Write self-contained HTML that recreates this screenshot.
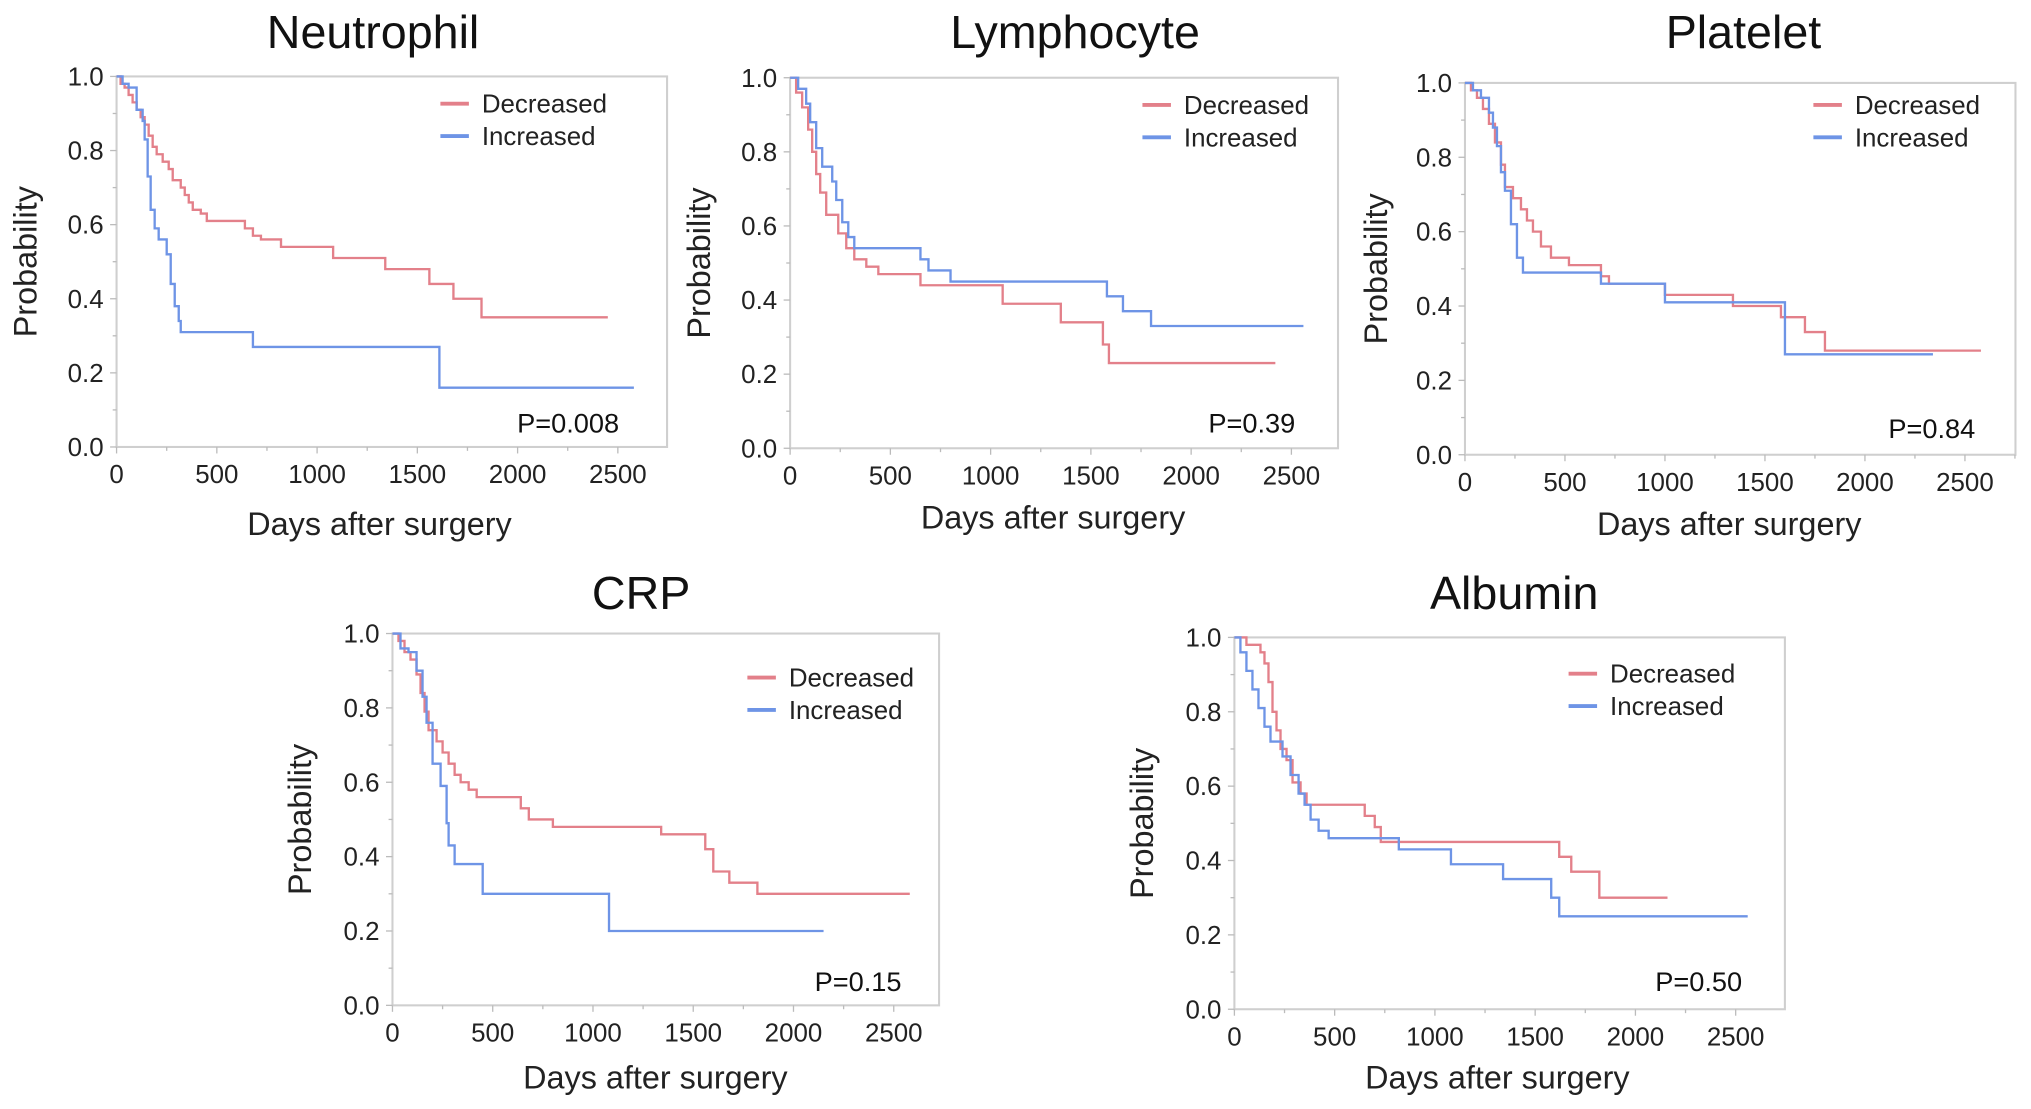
<!DOCTYPE html>
<html><head><meta charset="utf-8"><style>
html,body{margin:0;padding:0;background:#fff;}
svg{display:block;font-family:"Liberation Sans",Arial,sans-serif;}
</style></head><body>
<svg id="fig" width="2031" height="1109" viewBox="0 0 1568 856" preserveAspectRatio="none" xmlns="http://www.w3.org/2000/svg"></svg>
<script>
const xTicks = [0,500,1000,1500,2000,2500];
const yTicks = [0,0.2,0.4,0.6,0.8,1.0];
const seriesNames = ["Decreased","Increased"];
const panelTitles = ["Neutrophil","Lymphocyte","Platelet","CRP","Albumin"];
const pValues = ["P=0.008","P=0.39","P=0.84","P=0.15","P=0.50"];

const neutDecT = [0,20,40,60,80,100,120,140,160,180,200,230,260,280,320,340,360,380,420,450,640,680,720,820,1080,1340,1560,1680,1820,2450];
const neutDecS = [1,.98,.97,.95,.93,.91,.89,.87,.84,.81,.79,.77,.75,.72,.70,.68,.66,.64,.63,.61,.59,.57,.56,.54,.51,.48,.44,.40,.35,.35];
const neutIncT = [0,30,60,100,130,140,155,170,190,210,250,270,290,310,320,680,1610,2580];
const neutIncS = [1,.98,.97,.91,.88,.83,.73,.64,.59,.56,.52,.44,.38,.34,.31,.27,.16,.16];

const lymDecT = [0,30,60,90,110,130,150,180,240,280,320,380,440,650,1060,1350,1560,1590,2420];
const lymDecS = [1,.96,.92,.86,.80,.74,.69,.63,.58,.54,.51,.49,.47,.44,.39,.34,.28,.23,.23];
const lymIncT = [0,40,80,100,130,160,210,230,260,290,320,650,690,800,1580,1660,1800,2560];
const lymIncS = [1,.97,.93,.88,.81,.76,.72,.67,.61,.57,.54,.51,.48,.45,.41,.37,.33,.33];

const pltDecT = [0,30,60,90,120,150,180,200,240,280,310,340,380,430,520,680,720,1000,1340,1580,1700,1800,2580];
const pltDecS = [1,.98,.96,.93,.89,.84,.78,.72,.69,.66,.63,.60,.56,.53,.51,.48,.46,.43,.40,.37,.33,.28,.28];
const pltIncT = [0,40,80,120,140,160,180,200,230,260,290,680,1000,1600,2340];
const pltIncS = [1,.98,.96,.92,.88,.83,.76,.71,.62,.53,.49,.46,.41,.27,.27];

const crpDecT = [0,30,60,90,120,140,160,180,220,250,280,310,340,380,420,640,680,800,1340,1560,1600,1680,1820,2580];
const crpDecS = [1,.98,.95,.93,.89,.84,.79,.74,.71,.68,.65,.62,.60,.58,.56,.53,.50,.48,.46,.42,.36,.33,.30,.30];
const crpIncT = [0,40,80,120,150,170,200,240,270,280,310,450,1080,2150];
const crpIncS = [1,.96,.95,.90,.83,.76,.65,.59,.49,.43,.38,.30,.20,.20];

const albDecT = [0,60,130,150,170,190,210,230,260,290,330,360,650,700,730,1620,1680,1820,2160];
const albDecS = [1,.98,.96,.93,.88,.80,.75,.70,.67,.61,.58,.55,.52,.49,.45,.41,.37,.30,.30];
const albIncT = [0,30,60,90,120,150,180,240,280,320,350,380,420,470,820,1080,1340,1580,1620,2560];
const albIncS = [1,.96,.91,.86,.81,.76,.72,.68,.63,.58,.55,.51,.48,.46,.43,.39,.35,.30,.25,.25];

const panels = [
 {x0:90,x25:477,right:515,yTop:59,yBot:345,tx:288,ty:37,lx:340,ly:80,px:478,py:334,xl:293,xly:413,yl:28,d:[neutDecT,neutDecS],i:[neutIncT,neutIncS]},
 {x0:610,x25:997,right:1033,yTop:60,yBot:346,tx:830,ty:37,lx:882,ly:81,px:1000,py:334,xl:813,xly:408,yl:548,d:[lymDecT,lymDecS],i:[lymIncT,lymIncS]},
 {x0:1131,x25:1517,right:1556,yTop:64,yBot:351,tx:1346,ty:37,lx:1400,ly:81,px:1525,py:338,xl:1335,xly:413,yl:1071,d:[pltDecT,pltDecS],i:[pltIncT,pltIncS]},
 {x0:303,x25:690,right:725,yTop:489,yBot:776,tx:495,ty:470,lx:577,ly:523,px:696,py:765,xl:506,xly:840,yl:240,d:[crpDecT,crpDecS],i:[crpIncT,crpIncS]},
 {x0:953,x25:1340,right:1378,yTop:492,yBot:779,tx:1169,ty:470,lx:1211,ly:520,px:1345,py:765,xl:1156,xly:840,yl:890,d:[albDecT,albDecS],i:[albIncT,albIncS]}
];
const RED="#e3808a", BLUE="#6e94e6";
const NS="http://www.w3.org/2000/svg";
const svg=document.getElementById('fig');
function mk(tag,attrs,parent,text){const e=document.createElementNS(NS,tag);for(const k in attrs)e.setAttribute(k,attrs[k]);if(text!==undefined)e.textContent=text;(parent||svg).appendChild(e);return e;}

panels.forEach((p,idx)=>{
  const g=mk('g',{});
  
  
  const xs=v=>p.x0+(p.x25-p.x0)*v/2500;
  const ys=v=>p.yBot-(p.yBot-p.yTop)*v;
  const frame=mk('rect',{x:p.x0,y:p.yTop,width:p.right-p.x0,height:p.yBot-p.yTop,fill:'none',stroke:'#cfcfcf','stroke-width':1.6},g);
  
  
  for(let v=0;v<=2750;v+=250){const x=xs(v);if(x>p.right)break;mk('line',{x1:x,x2:x,y1:p.yBot,y2:p.yBot+(v%500===0?5:3),stroke:'#bbb','stroke-width':1},g);}
  for(let k=0;k<=10;k++){const y=ys(k/10);mk('line',{x1:p.x0-(k%2===0?5:3),x2:p.x0,y1:y,y2:y,stroke:'#bbb','stroke-width':1},g);}
  xTicks.forEach(v=>{const t=mk('text',{x:xs(v),y:p.yBot+28,'text-anchor':'middle','font-size':20,fill:'#222'},g,String(v));
    
    });
  yTicks.forEach(v=>{const t=mk('text',{x:p.x0-10,y:ys(v)+7,'text-anchor':'end','font-size':20,fill:'#222'},g,v.toFixed(1));
    
    });
  const title=mk('text',{x:p.tx,y:p.ty,'text-anchor':'middle','font-size':36,fill:'#111'},g,panelTitles[idx]);
  
  
  const xl=mk('text',{x:p.xl,y:p.xly,'text-anchor':'middle','font-size':25,fill:'#222'},g,'Days after surgery');
  
  
  const cy=(p.yTop+p.yBot)/2;
  const yl=mk('text',{x:p.yl,y:cy,'text-anchor':'middle','font-size':25,fill:'#222',transform:`rotate(-90 ${p.yl} ${cy})`},g,'Probability');
  
  
  [[p.d,RED,'decreased'],[p.i,BLUE,'increased']].forEach(([s,col,nm])=>{
    const T=s[0],S=s[1];let d=`M${xs(T[0])},${ys(S[0])}`;
    for(let k=1;k<T.length;k++){d+=` H${xs(T[k])} V${ys(S[k])}`;}
    const path=mk('path',{d:d,fill:'none',stroke:col,'stroke-width':1.8},g);
    
    
  });
  seriesNames.forEach((n,k)=>{
    const y=p.ly+k*25;
    const lg=mk('g',{},g);
    
    
    mk('line',{x1:p.lx,x2:p.lx+22,y1:y,y2:y,stroke:k?BLUE:RED,'stroke-width':3},lg);
    mk('text',{x:p.lx+32,y:y+7,'font-size':20,fill:'#222'},lg,n);
  });
  const pv=mk('text',{x:p.px,y:p.py,'text-anchor':'end','font-size':21,fill:'#111'},g,pValues[idx]);
  
  
});
</script>
</body></html>
